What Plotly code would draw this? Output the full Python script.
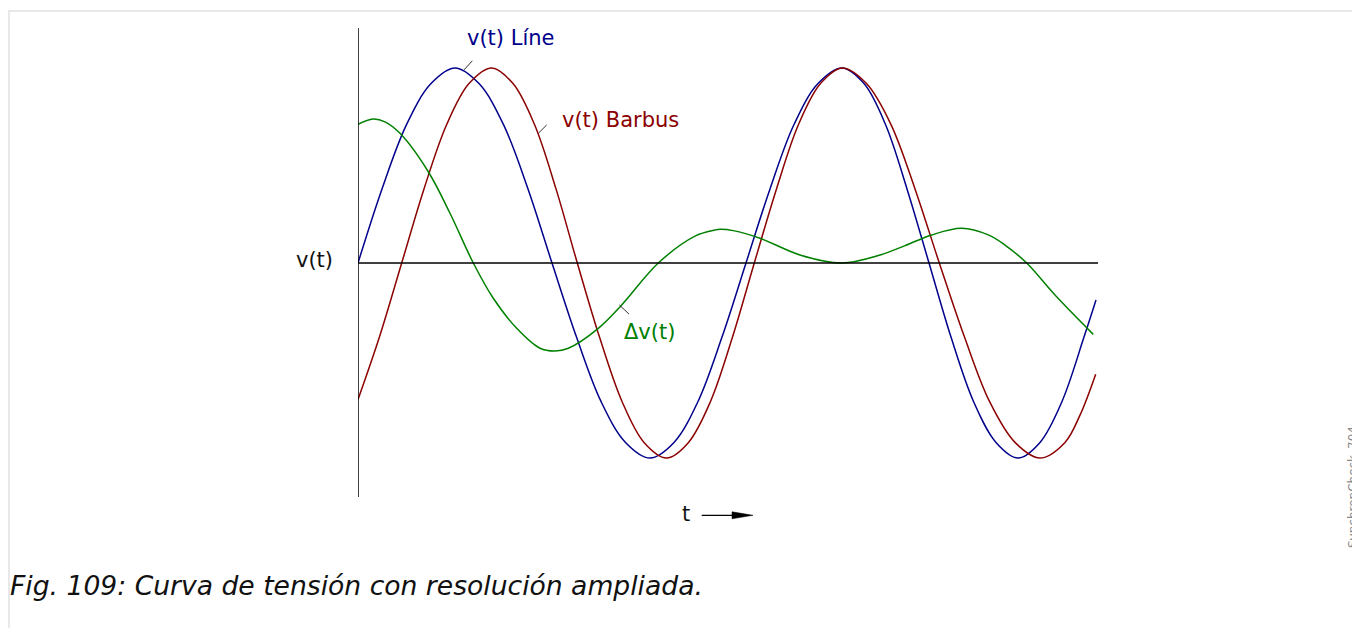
import plotly.graph_objects as go

# Tensión del lado de línea (azul)
t_line = [0, 24, 48.5, 73, 97, 121, 145.5, 170, 194, 218.5, 243, 267.5, 292,
          316, 340, 364, 388, 412, 436, 460, 484, 506, 527.5, 549, 571,
          593, 615.5, 638, 660, 682, 704, 726, 738]
v_line = [0, 0.38, 0.71, 0.92, 1.0, 0.92, 0.71, 0.38, 0, -0.38, -0.71, -0.92, -1.0,
          -0.92, -0.71, -0.38, 0, 0.38, 0.71, 0.92, 1.0, 0.92, 0.71, 0.38, 0,
          -0.38, -0.71, -0.92, -1.0, -0.92, -0.71, -0.38, -0.19]

# Tensión de barras (rojo)
t_bus = [0, 22, 43.7, 66, 88.7, 111, 133.7, 155, 176.5, 198, 219.3, 241.5, 264, 286, 308.7,
         330.5, 352.5, 374.5, 396.3, 418.5, 440.5, 462.5, 484.5, 508.5, 533, 557, 581.3,
         606.5, 631.5, 657, 682, 707, 722, 737.7]
v_bus = [-0.70, -0.37, 0, 0.38, 0.71, 0.92, 1.0, 0.92, 0.71, 0.38, 0, -0.38, -0.71, -0.92, -1.0,
         -0.92, -0.71, -0.38, 0, 0.38, 0.71, 0.92, 1.0, 0.92, 0.71, 0.38, 0,
         -0.38, -0.71, -0.92, -1.0, -0.92, -0.78, -0.57]

# Diferencia (verde)
t_diff = [0, 15, 27, 42, 70.3, 92, 115.3, 135.3, 158.7, 182, 197, 210.3, 240.3, 263.7,
          300.3, 337, 357, 362, 375.3, 402, 442, 483.7, 522, 547, 573.7, 603.7, 630.3,
          647, 668.7, 697, 735.3]
v_diff = [0.711, 0.738, 0.724, 0.665, 0.468, 0.255, 0, -0.181, -0.335, -0.437, -0.451, -0.437,
          -0.335, -0.215, 0, 0.138, 0.169, 0.173, 0.166, 0.127, 0.041, 0, 0.041, 0.089,
          0.144, 0.178, 0.144, 0.092, 0, -0.164, -0.366]

BLUE = '#00008B'
RED = '#8B0000'
GREEN = '#008000'
FONT = 'DejaVu Sans'

# área de trazado: 740 x 469 px
W, H = 740.0, 469.0

fig = go.Figure()
fig.add_trace(go.Scatter(x=t_line, y=v_line, mode='lines', line=dict(color=BLUE, width=1.5, shape='spline')))
fig.add_trace(go.Scatter(x=t_bus, y=v_bus, mode='lines', line=dict(color=RED, width=1.5, shape='spline')))
fig.add_trace(go.Scatter(x=t_diff, y=v_diff, mode='lines', line=dict(color=GREEN, width=1.5, shape='spline')))

ay = -18.3 / H
tri = 'M {a},{b} L {c},{d} L {a},{e} Z'.format(a=374 / W, b=ay + 3.5 / H, c=395 / W, d=ay, e=ay - 3.5 / H)

shapes = [
    # ejes
    dict(type='line', xref='x', yref='paper', x0=0, x1=0, y0=0, y1=1, line=dict(color='black', width=1.5)),
    dict(type='line', xref='x', yref='y', x0=0, x1=740, y0=0, y1=0, line=dict(color='black', width=1.5)),
    # líneas de referencia de las etiquetas
    dict(type='line', x0=106, x1=114.3, y0=0.99, y1=1.037, line=dict(color='#333', width=1)),
    dict(type='line', x0=180.3, x1=188.7, y0=0.665, y1=0.708, line=dict(color='#333', width=1)),
    dict(type='line', x0=261.3, x1=271, y0=-0.215, y1=-0.262, line=dict(color='#333', width=1)),
    # flecha del tiempo
    dict(type='line', xref='paper', yref='paper', x0=343.7 / W, x1=376 / W, y0=ay, y1=ay,
         line=dict(color='black', width=1.2)),
    dict(type='path', xref='paper', yref='paper', path=tri, fillcolor='black',
         line=dict(color='black', width=0.5)),
    # marco de la página
    dict(type='line', xref='paper', yref='paper', x0=-351 / W, x1=1010 / W, y0=486 / H, y1=486 / H,
         line=dict(color='#e8e8e8', width=2)),
    dict(type='line', xref='paper', yref='paper', x0=-349 / W, x1=-349 / W, y0=486 / H, y1=-139 / H,
         line=dict(color='#e8e8e8', width=2)),
]

annotations = [
    dict(x=153, y=1.154, text='v(t) Líne', showarrow=False, font=dict(family=FONT, size=21, color=BLUE)),
    dict(x=202, y=0.733, text='v(t) Barbus', xanchor='left', showarrow=False, font=dict(family=FONT, size=21, color=RED)),
    dict(x=263.7, y=-0.354, text='Δv(t)', xanchor='left', showarrow=False, font=dict(family=FONT, size=21, color=GREEN)),
    dict(xref='paper', yref='paper', x=-23 / W, y=237 / H, text='v(t)', xanchor='right', yanchor='middle',
         showarrow=False, font=dict(family=FONT, size=21, color='#111')),
    dict(xref='paper', yref='paper', x=328 / W, y=-17 / H, text='t', xanchor='center', yanchor='middle',
         showarrow=False, font=dict(family=FONT, size=21, color='#111')),
    dict(xref='paper', yref='paper', x=-350 / W, y=-88 / H, xanchor='left', yanchor='middle',
         text='<i>Fig. 109: Curva de tensión con resolución ampliada.</i>', showarrow=False,
         font=dict(family=FONT, size=26.6, color='#111')),
    dict(xref='paper', yref='paper', x=995 / W, y=10 / H, textangle=-90, xanchor='center', yanchor='middle',
         text='SynchronCheck_704', showarrow=False, font=dict(family=FONT, size=12, color='#888')),
]

fig.update_layout(
    width=1360, height=628,
    margin=dict(l=350, r=270, t=20, b=139),
    paper_bgcolor='white', plot_bgcolor='white',
    showlegend=False,
    xaxis=dict(range=[0, 740], visible=False),
    yaxis=dict(range=[-1.2, 1.2051], visible=False),
    shapes=shapes,
    annotations=annotations,
)

fig.write_html("out.html")
